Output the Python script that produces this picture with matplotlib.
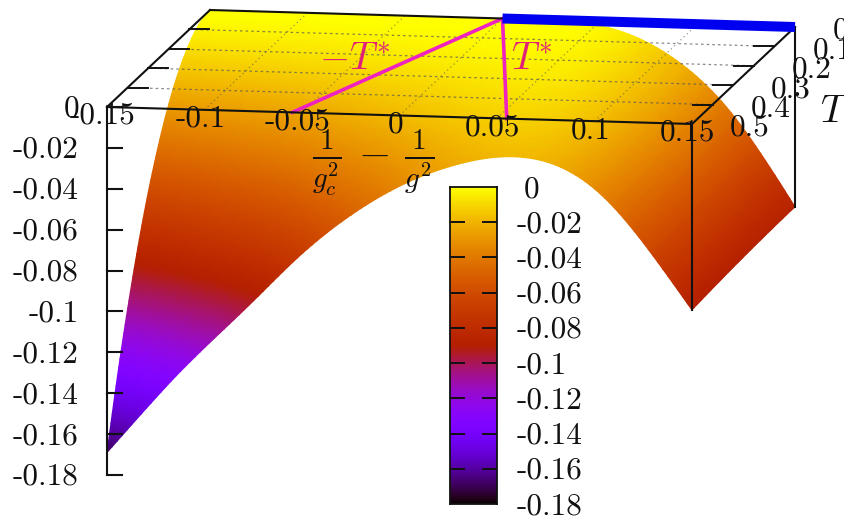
import numpy as np
import matplotlib
matplotlib.use('Agg')
import matplotlib.pyplot as plt
import matplotlib.tri as mtri
from matplotlib.colors import ListedColormap

plt.rcParams['font.family'] = ['cmr10', 'Liberation Serif']
plt.rcParams['mathtext.fontset'] = 'cm'
plt.rcParams['axes.unicode_minus'] = False

# values
x_vals = [-0.15, -0.13, -0.11, -0.09, -0.07, -0.05, -0.03, -0.01, 0.01, 0.03, 0.05, 0.07, 0.09, 0.11, 0.13, 0.15]
T_vals = [0, 0.05, 0.1, 0.15, 0.2, 0.25, 0.3, 0.35, 0.4, 0.45, 0.5]
z_T00 = [0, 0, 0, 0, 0, 0, 0, 0, 0, -0.0005, -0.0022, -0.0078, -0.0185, -0.0350, -0.0590, -0.0880]
z_T05 = [-0.0017, -0.0015, -0.0013, -0.0011, -0.0009, -0.0007, -0.0005, -0.0004, -0.0003, -0.0007, -0.0024, -0.0079, -0.0186, -0.0351, -0.0591, -0.0880]
z_T10 = [-0.0068, -0.0059, -0.0050, -0.0043, -0.0035, -0.0028, -0.0021, -0.0016, -0.0012, -0.0014, -0.0029, -0.0083, -0.0188, -0.0353, -0.0592, -0.0881]
z_T15 = [-0.0152, -0.0132, -0.0113, -0.0096, -0.0079, -0.0062, -0.0048, -0.0036, -0.0027, -0.0025, -0.0037, -0.0089, -0.0192, -0.0356, -0.0595, -0.0883]
z_T20 = [-0.0270, -0.0235, -0.0202, -0.0171, -0.0141, -0.0110, -0.0085, -0.0064, -0.0048, -0.0041, -0.0049, -0.0097, -0.0198, -0.0361, -0.0600, -0.0885]
z_T25 = [-0.0423, -0.0368, -0.0315, -0.0268, -0.0220, -0.0173, -0.0133, -0.0100, -0.0075, -0.0061, -0.0064, -0.0107, -0.0205, -0.0368, -0.0605, -0.0888]
z_T30 = [-0.0608, -0.0529, -0.0454, -0.0385, -0.0317, -0.0248, -0.0191, -0.0144, -0.0108, -0.0086, -0.0082, -0.0120, -0.0214, -0.0375, -0.0612, -0.0891]
z_T35 = [-0.0828, -0.0720, -0.0617, -0.0524, -0.0431, -0.0338, -0.0260, -0.0196, -0.0147, -0.0115, -0.0104, -0.0135, -0.0224, -0.0384, -0.0619, -0.0895]
z_T40 = [-0.1082, -0.0941, -0.0806, -0.0685, -0.0563, -0.0442, -0.0339, -0.0256, -0.0192, -0.0149, -0.0130, -0.0153, -0.0236, -0.0395, -0.0628, -0.0899]
z_T45 = [-0.1369, -0.1191, -0.1021, -0.0867, -0.0713, -0.0559, -0.0429, -0.0324, -0.0243, -0.0187, -0.0158, -0.0173, -0.0250, -0.0407, -0.0639, -0.0904]
z_T50 = [-0.169, -0.147, -0.126, -0.107, -0.088, -0.069, -0.053, -0.040, -0.030, -0.023, -0.019, -0.0195, -0.0265, -0.042, -0.065, -0.091]

x_ticks = [-0.15, -0.1, -0.05, 0, 0.05, 0.1, 0.15]
x_labels = ['-0.15', '-0.1', '-0.05', '0', '0.05', '0.1', '0.15']
T_ticks = [0, 0.1, 0.2, 0.3, 0.4, 0.5]
T_labels = ['0', '0.1', '0.2', '0.3', '0.4', '0.5']
z_ticks = [0, -0.02, -0.04, -0.06, -0.08, -0.1, -0.12, -0.14, -0.16, -0.18]
z_labels = ['0', '-0.02', '-0.04', '-0.06', '-0.08', '-0.1', '-0.12', '-0.14', '-0.16', '-0.18']

# critical lines and the T=0 line
crit_x = [-0.055, 0, 0.055]
crit_T = [0.5, 0, 0.5]
blue_x = [0, 0.15]


# gnuplot view of the box, result in pixels of the figure
def project(x, T, z):
    x = np.asarray(x, dtype=float)
    T = np.asarray(T, dtype=float)
    z = np.asarray(z, dtype=float)
    a = (x + 0.15) / 0.3
    b = (0.5 - T) / 0.5
    return 107 + a * 585 + b * 103, 107 + a * 17 - b * 97 - z / 0.18 * 368


# gnuplot palette rgbformulae 7,5,15
t = np.linspace(0, 1, 256)
pal = ListedColormap(np.c_[np.sqrt(t), t ** 3, np.clip(np.sin(2 * np.pi * t), 0, 1)])

fig = plt.figure(figsize=(8.45, 5.16), dpi=100)
ax = fig.add_axes([0, 0, 1, 1])
ax.set_xlim(0, 845)
ax.set_ylim(516, 0)
ax.axis('off')

# surface, table refined by matplotlib for a smooth outline
Z = np.array([z_T00, z_T05, z_T10, z_T15, z_T20, z_T25, z_T30, z_T35, z_T40, z_T45, z_T50])
XX, TT = np.meshgrid(x_vals, T_vals)
nr, nc = Z.shape
cells = []
for i in range(nr - 1):
    for j in range(nc - 1):
        k = i * nc + j
        cells.append([k, k + 1, k + nc])
        cells.append([k + 1, k + nc + 1, k + nc])
base = mtri.Triangulation(XX.ravel(), TT.ravel(), cells)
fine, z_fine = mtri.UniformTriRefiner(base).refine_field(Z.ravel(), subdiv=3)
px, py = project(fine.x, fine.y, z_fine)
ax.tripcolor(mtri.Triangulation(px, py, fine.triangles), z_fine, shading='gouraud',
             cmap=pal, vmin=-0.18, vmax=0, zorder=1)

# grid on the z=0 plane
for v in x_ticks[1:-1]:
    gx, gy = project([v, v], [0.5, 0], [0, 0])
    ax.plot(gx, gy, color='#555555', lw=0.9, ls=(0, (1, 2.5)), alpha=0.6, zorder=2)
for v in T_ticks[1:-1]:
    gx, gy = project([-0.15, 0.15], [v, v], [0, 0])
    ax.plot(gx, gy, color='#555555', lw=0.9, ls=(0, (2, 2.5)), alpha=0.7, zorder=2)
    ax.plot([gx[0], gx[0] + 20], [gy[0], gy[0]], color='#111111', lw=1.4, zorder=4)
    ax.plot([gx[1], gx[1] - 20], [gy[1], gy[1]], color='#111111', lw=1.4, zorder=4)

# magenta and blue lines
cx, cy = project(crit_x, crit_T, [0, 0, 0])
ax.plot(cx, cy, color='#ee22c0', lw=2.6, solid_joinstyle='miter', zorder=3)
bx, by = project(blue_x, [0, 0], [0, 0])
ax.plot(bx, by, color='#0000f0', lw=7.2, solid_capstyle='butt', zorder=5)

# box
frame = [([-0.15, 0.15], [0.5, 0.5], [0, 0]),
         ([-0.15, 0], [0, 0], [0, 0]),
         ([-0.15, -0.15], [0.5, 0], [0, 0]),
         ([0.15, 0.15], [0.5, 0], [0, 0]),
         ([-0.15, -0.15], [0.5, 0.5], [0, -0.18]),
         ([0.15, 0.15], [0.5, 0.5], [0, z_T50[-1]]),
         ([0.15, 0.15], [0, 0], [0, z_T00[-1]])]
for fx, fT, fz in frame:
    gx, gy = project(fx, fT, fz)
    ax.plot(gx, gy, color='#111111', lw=1.5, zorder=4)

# tick labels
for v, s in zip(x_ticks, x_labels):
    gx, gy = project(v, 0.5, 0)
    ax.text(gx - 4, gy + 9, s, ha='center', va='center', fontsize=22.5, color='#111111', zorder=6)
for v, s in zip(T_ticks, T_labels):
    gx, gy = project(0.15, v, 0)
    ax.text(gx + 38, gy + 4, s, ha='left', va='center', fontsize=22.5, color='#111111', zorder=6, clip_on=False)
for v, s in zip(z_ticks, z_labels):
    gx, gy = project(-0.15, 0.5, v)
    ax.plot([gx, gx + 15], [gy, gy], color='#111111', lw=1.5, zorder=4)
    ax.text(gx - 28, gy + 2, s, ha='right', va='center', fontsize=22.5, color='#111111', zorder=6)

ax.text(373, 163, r'$\frac{1}{g_c^2}\,-\,\frac{1}{g^2}$', ha='center', va='center', fontsize=30, color='#111111', zorder=6)
ax.text(835, 112, r'$T$', ha='center', va='center', fontsize=28, color='#111111', zorder=6)
ax.text(355, 60, r'$-T^{*}$', ha='center', va='center', fontsize=28, color='#e0207a', zorder=6)
ax.text(531, 60, r'$T^{*}$', ha='center', va='center', fontsize=28, color='#e0207a', zorder=6)

# colour box
cax = fig.add_axes([450 / 845, 1 - 504 / 516, 47 / 845, 317 / 516])
cax.imshow(np.linspace(0, 1, 256)[::-1, None], cmap=pal, aspect='auto', extent=[0, 1, -0.18, 0])
cax.set_xticks([])
cax.set_yticks(z_ticks[1:-1])
cax.set_yticklabels([])
cax.tick_params(axis='y', direction='in', length=10.8, width=1.4, left=True, right=True, color='#111111')
for s in cax.spines.values():
    s.set_linewidth(1.3)
    s.set_color('#111111')
for v, s in zip(z_ticks, z_labels):
    off = 19 if s == '0' else 14
    cax.annotate(s, (1, v), xycoords=cax.get_yaxis_transform(), xytext=(off, -1.5),
                 textcoords='offset points', ha='left', va='center', fontsize=22.5, color='#111111',
                 annotation_clip=False)

fig.savefig('out.png', dpi=100)
